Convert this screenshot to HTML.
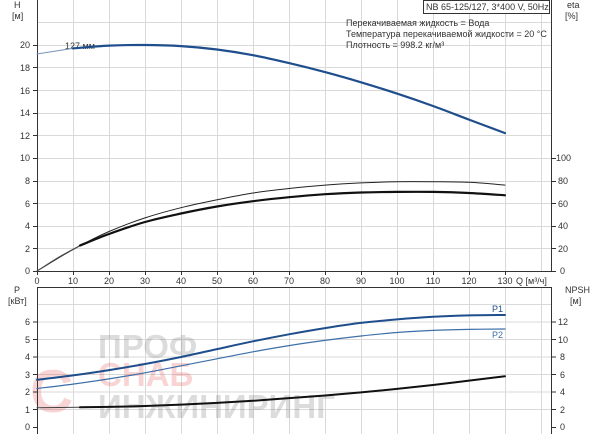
<!DOCTYPE html>
<html><head><meta charset="utf-8"><style>
html,body{margin:0;padding:0;background:#fff;width:600px;height:434px;overflow:hidden}
svg{display:block;font-family:"Liberation Sans",sans-serif}
</style></head><body>
<svg width="600" height="434" viewBox="0 0 600 434" xmlns="http://www.w3.org/2000/svg">
<g stroke="#d9d9d9" stroke-width="1">
<path d="M73.5 0V271M109.5 0V271M145.5 0V271M181.5 0V271M217.5 0V271M253.5 0V271M289.5 0V271M325.5 0V271M361.5 0V271M397.5 0V271M433.5 0V271M469.5 0V271M505.5 0V271M541.5 0V271"/>
<path d="M37 248.5H551M37 226.5H551M37 203.5H551M37 181.5H551M37 158.5H551M37 135.5H551M37 113.5H551M37 90.5H551M37 67.5H551M37 45.5H551M37 22.5H551"/>
<path d="M73.5 288V434M109.5 288V434M145.5 288V434M181.5 288V434M217.5 288V434M253.5 288V434M289.5 288V434M325.5 288V434M361.5 288V434M397.5 288V434M433.5 288V434M469.5 288V434M505.5 288V434M541.5 288V434"/>
<path d="M37 409.5H551M37 392H551M37 374.5H551M37 357H551M37 339.5H551M37 322H551M37 304.5H551"/>
</g>
<g font-size="33" opacity="0.22" font-weight="bold">
<text x="98" y="358" fill="#666">ПРОФ</text>
<text x="98" y="386" fill="#e04040">СНАБ</text>
<text x="98" y="418" fill="#666">ИНЖИНИРИНГ</text>
<text x="30" y="412" fill="#e04040" font-size="60">С</text>
</g>
<g stroke="#333" stroke-width="1" fill="none">
<path d="M37.5 0V271.5H551.5V0"/>
<path d="M37.5 434V287.5H551.5V434"/>
<path d="M33 271.5H37M33 248.5H37M33 226.5H37M33 203.5H37M33 181.5H37M33 158.5H37M33 135.5H37M33 113.5H37M33 90.5H37M33 67.5H37M33 45.5H37"/>
<path d="M551 271.5H556M551 248.5H556M551 226.5H556M551 203.5H556M551 181.5H556M551 158.5H556"/>
<path d="M37.5 271V275M73.5 271V275M109.5 271V275M145.5 271V275M181.5 271V275M217.5 271V275M253.5 271V275M289.5 271V275M325.5 271V275M361.5 271V275M397.5 271V275M433.5 271V275M469.5 271V275M505.5 271V275"/>
<path d="M33 427.5H37M33 409.5H37M33 392H37M33 374.5H37M33 357H37M33 339.5H37M33 322H37"/>
<path d="M551 427.5H556M551 409.5H556M551 392H556M551 374.5H556M551 357H556M551 339.5H556M551 322H556"/>
</g>
<g font-size="9" fill="#333">
<g text-anchor="end">
<text x="30" y="274">0</text><text x="30" y="252">2</text><text x="30" y="229">4</text><text x="30" y="207">6</text><text x="30" y="184">8</text><text x="30" y="161">10</text><text x="30" y="139">12</text><text x="30" y="116">14</text><text x="30" y="94">16</text><text x="30" y="71">18</text><text x="30" y="48">20</text>
<text x="30" y="430">0</text><text x="30" y="413">1</text><text x="30" y="395">2</text><text x="30" y="378">3</text><text x="30" y="360">4</text><text x="30" y="343">5</text><text x="30" y="325">6</text>
</g>
<text x="560" y="274">0</text><text x="558" y="252">20</text><text x="558" y="229">40</text><text x="558" y="207">60</text><text x="558" y="184">80</text><text x="556" y="161">100</text>
<text x="560" y="430">0</text><text x="560" y="413">2</text><text x="560" y="395">4</text><text x="560" y="378">6</text><text x="560" y="360">8</text><text x="558" y="343">10</text><text x="558" y="325">12</text>
<g text-anchor="middle">
<text x="37" y="284">0</text><text x="73" y="284">10</text><text x="109" y="284">20</text><text x="145" y="284">30</text><text x="181" y="284">40</text><text x="217" y="284">50</text><text x="253" y="284">60</text><text x="289" y="284">70</text><text x="325" y="284">80</text><text x="361" y="284">90</text><text x="397" y="284">100</text><text x="433" y="284">110</text><text x="469" y="284">120</text><text x="505" y="284">130</text>
</g>
<text x="516" y="284">Q [м³/ч]</text>
<text x="14" y="8">H</text><text x="12" y="19">[м]</text>
<text x="567" y="8">eta</text><text x="565" y="19">[%]</text>
<text x="14" y="293">P</text><text x="8" y="304">[кВт]</text>
<text x="565" y="293">NPSH</text><text x="570" y="304">[м]</text>
<text x="65" y="49">127 мм</text>
<text x="346" y="26">Перекачиваемая жидкость = Вода</text>
<text x="346" y="37">Температура перекачиваемой жидкости = 20 °C</text>
<text x="346" y="48">Плотность = 998.2 кг/м³</text>
<rect x="423.5" y="0.5" width="126" height="13" fill="#fff" stroke="#333"/>
<text x="426" y="10">NB 65-125/127, 3*400 V, 50Hz</text>
<text x="492" y="312" fill="#1f4e8c">P1</text>
<text x="492" y="338" fill="#3d6fa8">P2</text>
</g>
<g fill="none" stroke-linejoin="round" stroke-linecap="round">
<path class="s" d="M37 54 L73 48.4 L80 47.5" stroke="#7a93b8" stroke-width="1"/>
<path class="s" d="M73 48.4 L109 45.6 L145 45 L181 46.1 L217 49.5 L253 55.2 L289 63.1 L325 72.1 L361 82.3 L397 93.6 L433 106 L469 119.6 L505 133.1" stroke="#1f4e8c" stroke-width="2.2"/>
<path class="s" d="M37 271 L73 249.5 L109 231.5 L145 217.9 L181 207.7 L217 199.8 L253 193 L289 188.5 L325 185.1 L361 182.9 L397 181.7 L433 181.7 L469 182.3 L505 185.1" stroke="#222" stroke-width="1"/>
<path class="s" d="M37 271 L58 257.5 L80 245.5" stroke="#555" stroke-width="0.9"/>
<path class="s" d="M80 245.5 L109 234 L145 222 L181 213.5 L217 206.5 L253 201.2 L289 197.2 L325 194.2 L361 192.5 L397 191.9 L433 191.9 L469 193 L505 195.3" stroke="#111" stroke-width="2.2"/>
<path class="s" d="M37 379.8 L73 375.4 L109 370.1 L145 364 L181 357 L217 349.1 L253 341.3 L289 334.3 L325 328.1 L361 322.9 L397 319.4 L433 316.8 L469 315.4 L505 315" stroke="#1f4e8c" stroke-width="2"/>
<path class="s" d="M37 388.5 L73 384.1 L109 378.9 L145 372.8 L181 365.8 L217 358.8 L253 351.8 L289 345.6 L325 340.4 L361 336 L397 332.5 L433 330.4 L469 329.4 L505 329" stroke="#3d6fa8" stroke-width="1.2"/>
<path d="M37 407.8 L80 407.3" stroke="#444" stroke-width="1"/>
<path class="s" d="M80 407.3 L109 406.9 L145 406 L181 404.6 L217 402.9 L253 400.8 L289 398.1 L325 395.5 L361 392.4 L397 388.9 L433 385 L469 380.6 L505 376.2" stroke="#111" stroke-width="2"/>
</g>
</svg>
<script>
document.querySelectorAll('path.s').forEach(function(p){
  var n=p.getAttribute('d').match(/-?\d+(\.\d+)?/g).map(Number),pts=[];
  for(var i=0;i<n.length;i+=2)pts.push([n[i],n[i+1]]);
  var d='M'+pts[0][0]+' '+pts[0][1];
  for(var i=0;i<pts.length-1;i++){
    var p0=pts[i-1]||pts[i],p1=pts[i],p2=pts[i+1],p3=pts[i+2]||p2;
    d+=' C'+(p1[0]+(p2[0]-p0[0])/6)+' '+(p1[1]+(p2[1]-p0[1])/6)+' '+(p2[0]-(p3[0]-p1[0])/6)+' '+(p2[1]-(p3[1]-p1[1])/6)+' '+p2[0]+' '+p2[1];
  }
  p.setAttribute('d',d);
});
</script>
</body></html>
